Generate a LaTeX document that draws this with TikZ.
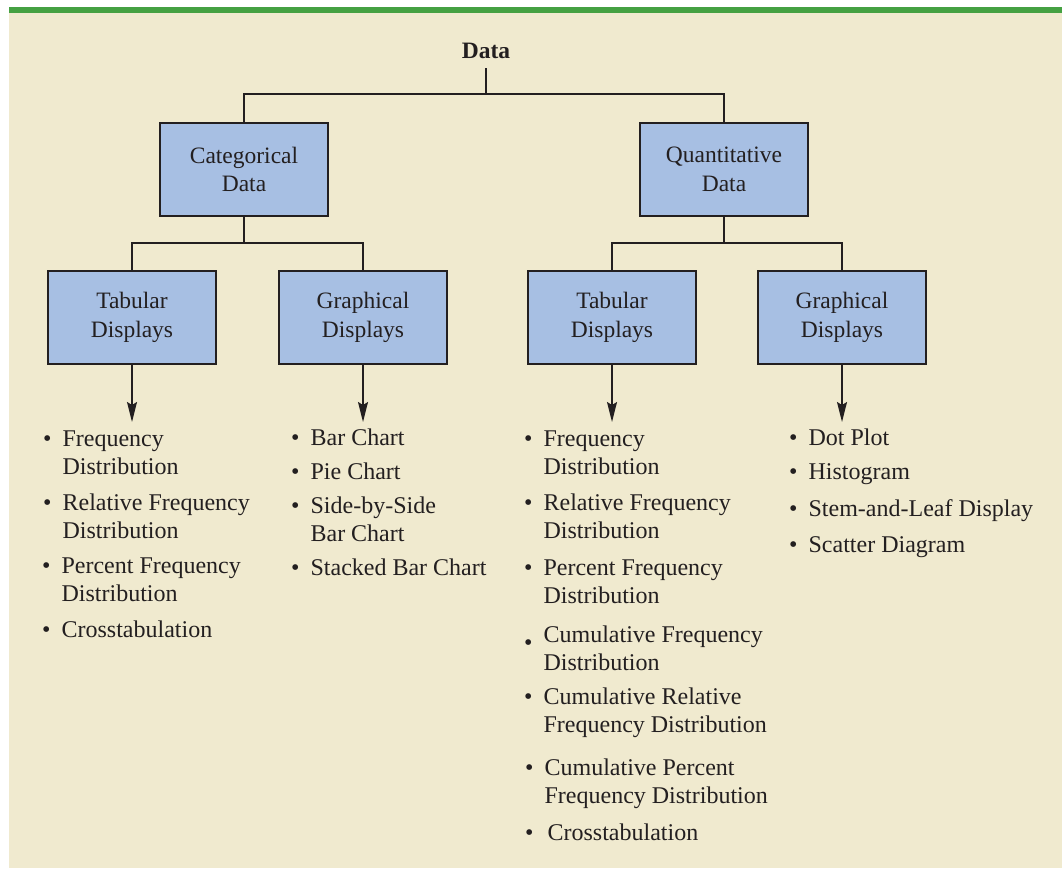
\documentclass[tikz,border=0pt]{standalone}
\usepackage{fontspec}
\setmainfont{Liberation Serif}
\usetikzlibrary{arrows.meta}
\definecolor{bargreen}{HTML}{45A142}
\definecolor{bgbeige}{HTML}{F0EACF}
\definecolor{boxblue}{HTML}{A7BFE3}
\definecolor{ink}{HTML}{231F20}
\newcommand{\bul}[1]{\begin{tabular}[t]{@{}l@{\hspace{11pt}}l@{}}•&#1\end{tabular}}
\newcommand{\bullow}[1]{\begin{tabular}[t]{@{}l@{\hspace{11pt}}l@{}}\raisebox{-8pt}{•}&#1\end{tabular}}
\begin{document}
\begin{tikzpicture}[x=1pt,y=-1pt,
  every node/.style={font=\fontsize{24}{28}\selectfont, text=ink},
  catbox/.style={draw=ink, line width=2pt, fill=boxblue, minimum width=168pt, minimum height=93pt, align=center, inner sep=0pt, font=\fontsize{23.5}{28.5}\selectfont},
  conn/.style={draw=ink, line width=1.5pt},
  arr/.style={conn, -{Stealth[length=20pt,width=10pt,inset=3pt]}},
  itm/.style={anchor=base west, inner sep=0pt}]
% background
\fill[white] (0,0) rectangle (1062,868);
\fill[bgbeige] (9,13) rectangle (1062,868);
\fill[bargreen] (9,7) rectangle (1062,13);
\useasboundingbox (0,0) rectangle (1062,868);
% nodes
\node[font=\fontsize{23.5}{28}\selectfont\bfseries, anchor=base, inner sep=10pt] (data) at (486,58) {Data};
\node[catbox] (cat) at (244,169.5) {Categorical\\Data};
\node[catbox] (quant) at (724,169.5) {Quantitative\\Data};
\node[catbox] (tabL) at (132,317.5) {Tabular\\Displays};
\node[catbox] (graL) at (363,317.5) {Graphical\\Displays};
\node[catbox] (tabR) at (612,317.5) {Tabular\\Displays};
\node[catbox] (graR) at (842,317.5) {Graphical\\Displays};
% connectors
\coordinate (j0) at (486,94);
\coordinate (j1) at (244,243);
\coordinate (j2) at (724,243);
\coordinate (tipY) at (0,422);
\draw[conn] (data.south) -- (j0);
\draw[conn] (cat.north) |- (j0) -| (quant.north);
\draw[conn] (cat.south) -- (j1);
\draw[conn] (tabL.north) |- (j1) -| (graL.north);
\draw[conn] (quant.south) -- (j2);
\draw[conn] (tabR.north) |- (j2) -| (graR.north);
\draw[arr] (tabL.south) -- (tabL.south |- tipY);
\draw[arr] (graL.south) -- (graL.south |- tipY);
\draw[arr] (tabR.south) -- (tabR.south |- tipY);
\draw[arr] (graR.south) -- (graR.south |- tipY);
% lists
\node[itm] (a1) at (43,446) {\bul{Frequency\\&Distribution}};
\node[itm] (a2) at (43,510) {\bul{Relative Frequency\\&Distribution}};
\node[itm] (a3) at (42,573) {\bul{Percent Frequency\\&Distribution}};
\node[itm] (a4) at (42,637) {\bul{Crosstabulation}};
\node[itm] (b1) at (291,445) {\bul{Bar Chart}};
\node[itm] (b2) at (291,479) {\bul{Pie Chart}};
\node[itm] (b3) at (291,513) {\bul{Side-by-Side\\&Bar Chart}};
\node[itm] (b4) at (291,575) {\bul{Stacked Bar Chart}};
\node[itm] (c1) at (524,446) {\bul{Frequency\\&Distribution}};
\node[itm] (c2) at (524,510) {\bul{Relative Frequency\\&Distribution}};
\node[itm] (c3) at (524,575) {\bul{Percent Frequency\\&Distribution}};
\node[itm] (c4) at (524,642) {\bullow{Cumulative Frequency\\&Distribution}};
\node[itm] (c5) at (524,704) {\bul{Cumulative Relative\\&Frequency Distribution}};
\node[itm] (c6) at (525,775) {\bul{Cumulative Percent\\&Frequency Distribution}};
\node[itm] (c7) at (525,840) {\bul{\hspace{3pt}Crosstabulation}};
\node[itm] (d1) at (789,445) {\bul{Dot Plot}};
\node[itm] (d2) at (789,479) {\bul{Histogram}};
\node[itm] (d3) at (789,516) {\bul{Stem-and-Leaf Display}};
\node[itm] (d4) at (789,552) {\bul{Scatter Diagram}};
\end{tikzpicture}
\end{document}
